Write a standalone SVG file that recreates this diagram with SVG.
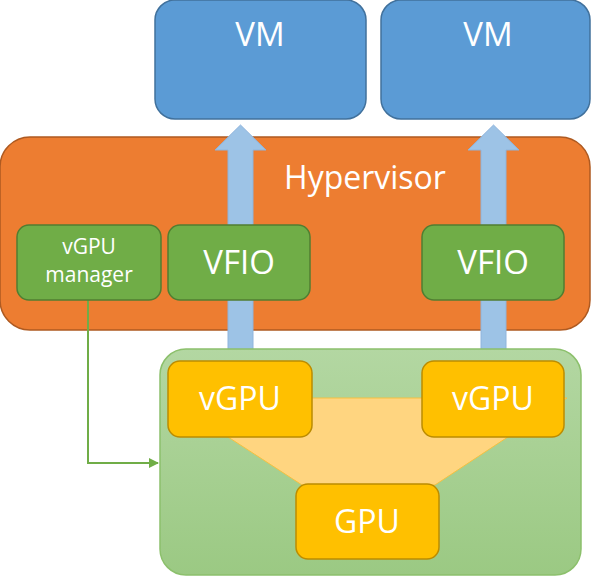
<svg xmlns="http://www.w3.org/2000/svg" width="592" height="576" viewBox="0 0 592 576">
<defs>
<linearGradient id="gGrad" x1="0" y1="0" x2="0" y2="1">
<stop offset="0" stop-color="#B3D7A2"/>
<stop offset="1" stop-color="#9BC983"/>
</linearGradient>
<marker id="gArrow" markerWidth="10" markerHeight="10" refX="9" refY="5" orient="auto" markerUnits="userSpaceOnUse">
<path d="M0,0 L10,5 L0,10 Z" fill="#70AD47"/>
</marker>
<style>
.t{font-family:"Open Sans","Noto Sans",sans-serif;fill:#FFFFFF;text-anchor:middle}
.vm{fill:#5B9BD5;stroke:#41719C;stroke-width:1.5}
.hv{fill:#ED7D31;stroke:#AE5A21;stroke-width:1.5}
.gr{fill:#70AD47;stroke:#507E32;stroke-width:1.5}
.yl{fill:#FFC000;stroke:#BC8C00;stroke-width:1.5}
.ar{fill:#9DC3E6;stroke:#8FB4DC;stroke-width:1}
</style>
</defs>
<rect width="592" height="576" fill="#FFFFFF"/>
<g id="vm1"><rect class="vm" x="155" y="0" width="211" height="119" rx="20"/><text class="t" x="260" y="46" font-size="33">VM</text></g>
<g id="vm2"><rect class="vm" x="381" y="0" width="209" height="119" rx="20"/><text class="t" x="488" y="46" font-size="33">VM</text></g>
<g id="hypervisor"><rect class="hv" x="0" y="137" width="590" height="193" rx="30"/><text class="t" x="365" y="189" font-size="32">Hypervisor</text></g>
<g id="connectors">
<path class="ar" d="M228,350 L228,150 L215,150 L240.5,125 L266,150 L253,150 L253,350 Z"/>
<path class="ar" d="M481,350 L481,150 L468,150 L493.5,125 L519,150 L506,150 L506,350 Z"/>
<path d="M88,300 L88,463 L158,463" fill="none" stroke="#70AD47" stroke-width="2" marker-end="url(#gArrow)"/>
</g>
<g id="vfio1"><rect class="gr" x="168" y="225" width="142" height="75" rx="12"/><text class="t" x="239" y="274" font-size="33">VFIO</text></g>
<g id="vfio2"><rect class="gr" x="422" y="225" width="142" height="75" rx="12"/><text class="t" x="493" y="274" font-size="33">VFIO</text></g>
<g id="vgpu-manager"><rect class="gr" x="17" y="225" width="144" height="75" rx="12"/><text class="t" x="89" y="254" font-size="21">vGPU</text><text class="t" x="89" y="282" font-size="21">manager</text></g>
<g id="gpu-container"><rect x="160" y="349" width="421" height="226" rx="26" fill="url(#gGrad)" stroke="#8CC06C" stroke-width="1.5"/>
<polygon points="168,398 567,398 435,485 302,485" fill="#FFD580" stroke="#F5C040" stroke-width="1"/></g>
<g id="vgpu1"><rect class="yl" x="168" y="361" width="144" height="76" rx="12"/><text class="t" x="240" y="410" font-size="32">vGPU</text></g>
<g id="vgpu2"><rect class="yl" x="422" y="361" width="142" height="76" rx="12"/><text class="t" x="493" y="410" font-size="32">vGPU</text></g>
<g id="gpu"><rect class="yl" x="296" y="484" width="143" height="75" rx="12"/><text class="t" x="367" y="533" font-size="32">GPU</text></g>
</svg>
